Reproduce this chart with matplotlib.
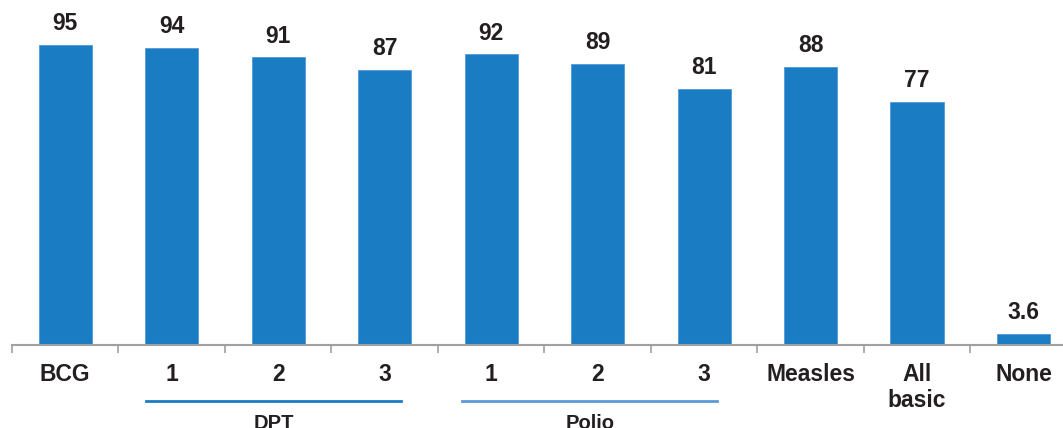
import matplotlib.pyplot as plt
import matplotlib.transforms as mtrans
from matplotlib.lines import Line2D

plt.rcParams['font.family'] = ['Liberation Sans', 'DejaVu Sans']

labels = ['BCG', '1', '2', '3', '1', '2', '3', 'Measles', 'All\nbasic', 'None']
values = [95, 94, 91, 87, 92, 89, 81, 88, 77, 3.6]
groups = ['DPT', 'Polio']
group_span = [(0.76, 3.15), (3.73, 6.12)]
group_color = ['#1a7dc4', '#5b9bd5']

bar_color = '#1a7dc4'
txt = '#231f20'

fig = plt.figure(figsize=(10.63, 4.28), dpi=100)
ax = fig.add_axes([12 / 1063, 83 / 428, 1 - 12 / 1063, 345 / 428])

x = list(range(len(values)))
ax.bar(x, values, width=0.5, color=bar_color, edgecolor='#4f9bd6', linewidth=0.6)

for xi, v in zip(x, values):
    ax.annotate('%g' % v, (xi, v), xytext=(0, 7), textcoords='offset points',
                ha='center', va='bottom', fontsize=16.5, fontweight='bold', color=txt)

ax.set_xticks(x)
ax.set_xticklabels(labels, fontsize=16.5, fontweight='bold', color=txt, va='top',
                   linespacing=1.15)
ax.tick_params(axis='x', which='major', length=0, pad=13)
ax.set_xticks([i - 0.5 for i in range(len(values) + 1)], minor=True)
ax.tick_params(axis='x', which='minor', length=6, width=1.2, color='#a0a0a0')
ax.set_yticks([])
# set limits after the ticks, set_xticks widens them
ax.set_xlim(-0.5, 9.37)
ax.set_ylim(0, 109.2)
for s in ['top', 'right', 'left']:
    ax.spines[s].set_visible(False)
ax.spines['bottom'].set_color('#a0a0a0')
ax.spines['bottom'].set_linewidth(1.5)

tr = mtrans.blended_transform_factory(ax.transData, fig.transFigure)
for name, (a, b), c in zip(groups, group_span, group_color):
    fig.add_artist(Line2D([a, b], [1 - 400.7 / 428] * 2, transform=tr, color=c,
                          linewidth=2))
    fig.text((a + b) / 2, 1 - 429 / 428, name, transform=tr, ha='center',
             va='baseline', fontsize=14.5, fontweight='bold', color=txt)

fig.savefig('out.png', dpi=100)
